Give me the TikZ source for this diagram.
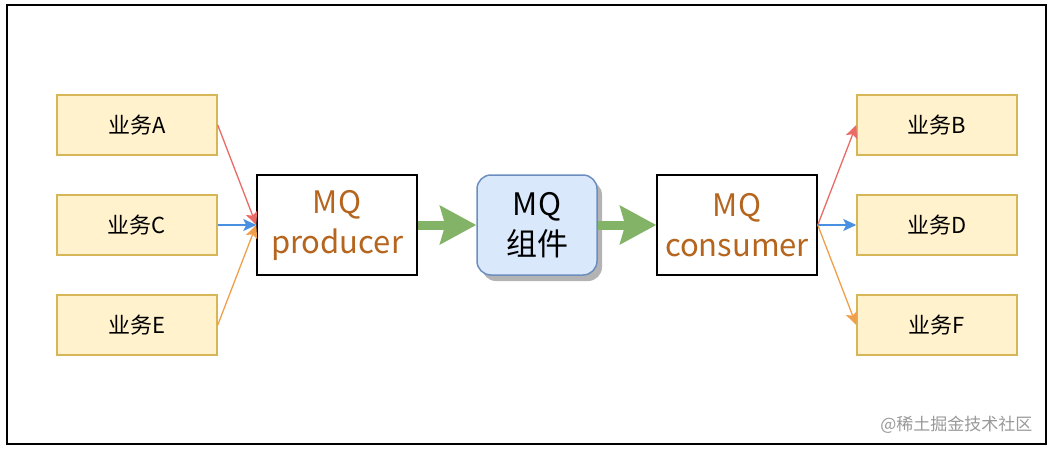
\documentclass[tikz,border=0pt]{standalone}
\usepackage{fontspec}
\setmainfont{Noto Sans CJK SC}
\usetikzlibrary{arrows.meta}
\definecolor{bizfill}{HTML}{FFF2CC}
\definecolor{bizdraw}{HTML}{D6B656}
\definecolor{mqfill}{HTML}{DAE8FC}
\definecolor{mqdraw}{HTML}{6C8EBF}
\definecolor{txtorange}{HTML}{B5651D}
\definecolor{redline}{HTML}{EA6B66}
\definecolor{blueline}{HTML}{4A90E2}
\definecolor{orangeline}{HTML}{F0A04B}
\definecolor{greenline}{HTML}{82B366}
\definecolor{shadowgray}{HTML}{B3B3B3}
\begin{document}
\begin{tikzpicture}[x=1pt,y=-1pt,
  biz/.style={draw=bizdraw,fill=bizfill,line width=1.5pt,minimum width=160pt,minimum height=60pt,inner sep=0pt,font=\fontsize{22}{26}\selectfont},
  mqbox/.style={draw=black,fill=white,line width=1.5pt,minimum width=160pt,minimum height=100pt,inner sep=0pt,align=center,text=txtorange,font=\fontsize{31}{40}\selectfont},
  thin/.style={line width=1.3pt,-{Stealth[length=13pt,width=12pt,inset=3pt]}},
  big/.style={line width=9pt,greenline,-{Stealth[length=36pt,width=38pt,inset=5pt]}}
]
\useasboundingbox (0,0) rectangle (1052,450);
\fill[white] (0,0) rectangle (1052,450);
\draw[line width=2pt] (7,5) rectangle (1046,444);

\node[biz] (A) at (137,125) {业务A};
\node[biz] (C) at (137,225) {业务C};
\node[biz] (E) at (137,325) {业务E};
\node[biz] (B) at (937,125) {业务B};
\node[biz] (D) at (937,225) {业务D};
\node[biz] (F) at (937,325) {业务F};

\node[mqbox] (P) at (337,225) {MQ\\producer};
\node[mqbox] (Q) at (737,225) {MQ\\consumer};

\fill[shadowgray,rounded corners=14pt] (482,181) rectangle (602,281);
\node[draw=mqdraw,fill=mqfill,line width=1.5pt,rounded corners=14pt,minimum width=120pt,minimum height=100pt,inner sep=0pt,align=center,font=\fontsize{31}{40}\selectfont] (M) at (537,225) {MQ\\组件};

\draw[thin,redline] (A.east) -- (P.west);
\draw[thin,blueline] (C.east) -- (P.west);
\draw[thin,orangeline] (E.east) -- (P.west);
\draw[thin,redline] (Q.east) -- (B.west);
\draw[thin,blueline] (Q.east) -- (D.west);
\draw[thin,orangeline] (Q.east) -- (F.west);

\draw[big] (P.east) -- (M.west);
\draw[big] (M.east) -- (Q.west);

\node[text=gray!80,font=\fontsize{17}{20}\selectfont,anchor=east] (W) at (1036,425) {@稀土掘金技术社区};
\end{tikzpicture}
\end{document}
